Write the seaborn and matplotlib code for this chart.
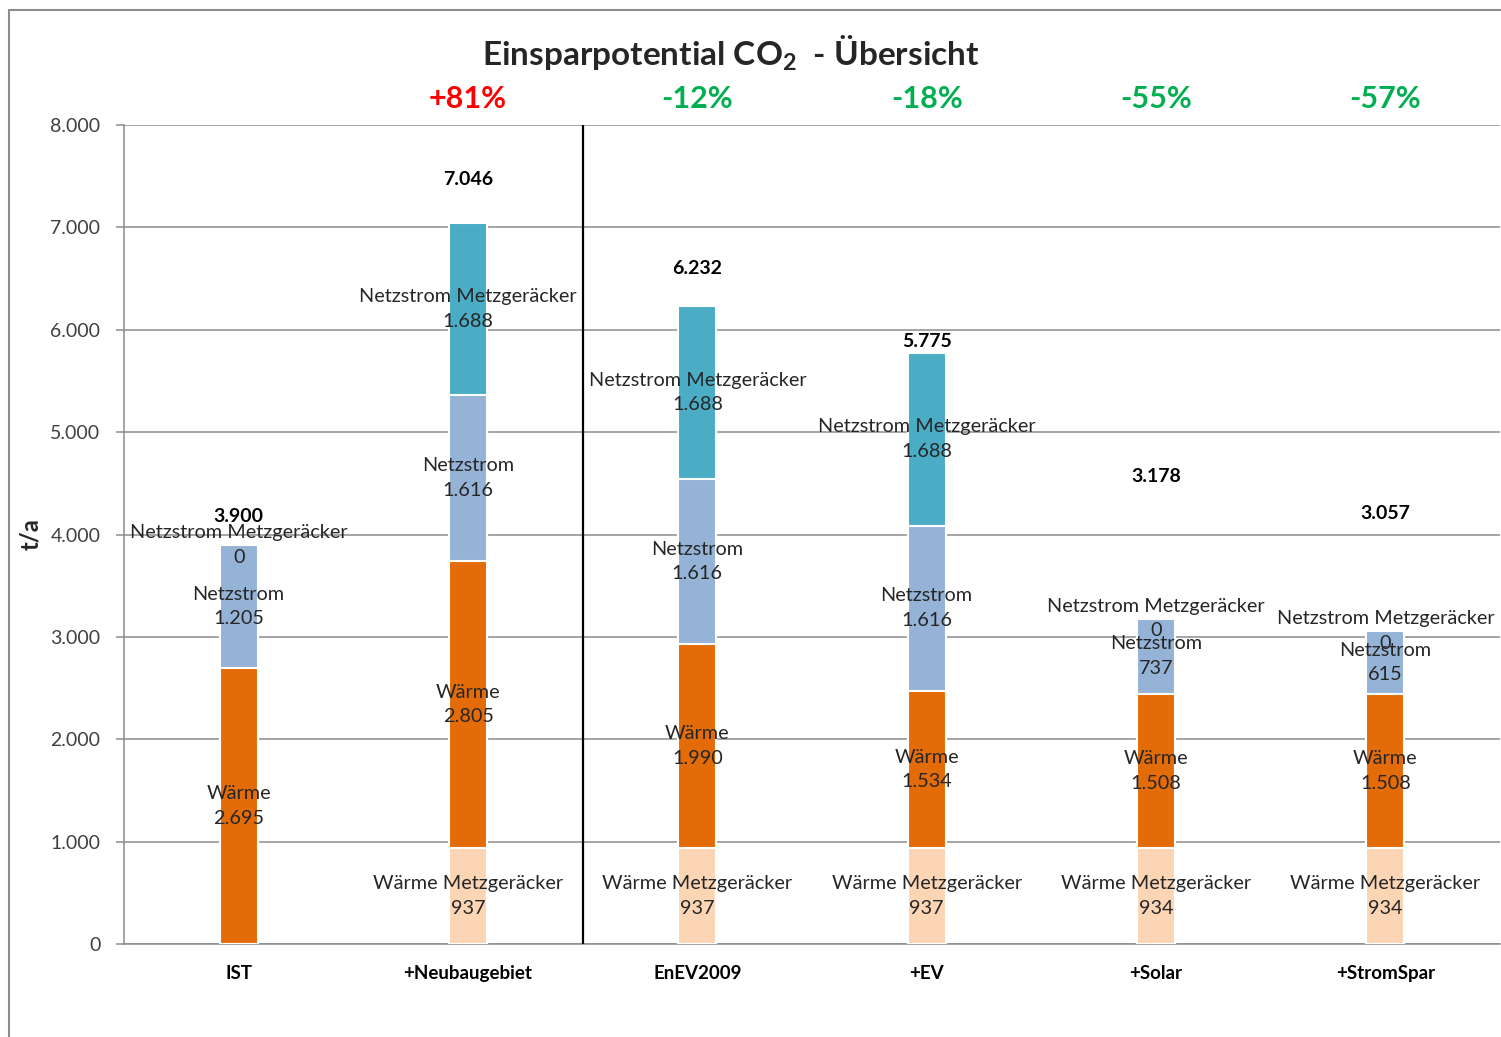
import numpy as np
import pandas as pd
import matplotlib.pyplot as plt
import seaborn as sns
from matplotlib.lines import Line2D

# data (t/a CO2)
categories = ["IST", "+Neubaugebiet", "EnEV2009", "+EV", "+Solar", "+StromSpar"]
segments = ["Wärme Metzgeräcker", "Wärme", "Netzstrom", "Netzstrom Metzgeräcker"]
waerme_metzg = [np.nan, 937, 937, 937, 934, 934]
waerme = [2695, 2805, 1990, 1534, 1508, 1508]
netzstrom = [1205, 1616, 1616, 1616, 737, 615]
netzstrom_metzg = [0, 1688, 1688, 1688, 0, 0]
totals = [3900, 7046, 6232, 5775, 3178, 3057]
change_labels = ["", "+81%", "-12%", "-18%", "-55%", "-57%"]

# layout for the total labels (offset above bar, t/a)
total_pad = [271, 417, 371, 115, 1393, 1153]

colors = ["#FCD5B5", "#E36C09", "#95B3D7", "#4BACC6"]
change_colors = ["black", "#FF0000", "#00B050", "#00B050", "#00B050", "#00B050"]

def de(v):
    return f"{v:,.0f}".replace(",", ".")

sns.set_style("white")
plt.rcParams["font.family"] = ["Lato", "DejaVu Sans"]
plt.rcParams["mathtext.default"] = "regular"

df = pd.DataFrame({"Kategorie": categories,
                   segments[0]: waerme_metzg, segments[1]: waerme,
                   segments[2]: netzstrom, segments[3]: netzstrom_metzg})
vals = df[segments].fillna(0)
cum = vals.cumsum(axis=1)

fig = plt.figure(figsize=(15.01, 10.37), dpi=100)
ax = fig.add_axes([124/1501, 1-944/1037, 1376/1501, 819/1037])

# stacked bars: draw cumulative heights from top layer down
for i in reversed(range(len(segments))):
    sns.barplot(x=df["Kategorie"], y=cum[segments[i]], color=colors[i], width=0.166,
                edgecolor="white", linewidth=1.5, saturation=1, ax=ax, zorder=3)

# segment labels
txt_col = "#262626"
for j in range(len(categories)):
    for i, seg in enumerate(segments):
        v = df[seg].iloc[j]
        if pd.isna(v):
            continue
        base = cum[seg].iloc[j] - vals[seg].iloc[j]
        ax.text(j, base + v/2, f"{seg}\n{de(v)}", ha="center", va="center",
                fontsize=14.3, color=txt_col, linespacing=1.55, zorder=5)
    ax.text(j, totals[j] + total_pad[j], de(totals[j]), ha="center", va="center",
            fontsize=14, fontweight="bold", color="black", zorder=5)
    if change_labels[j]:
        ax.text(j, 1.0317, change_labels[j], transform=ax.get_xaxis_transform(),
                ha="center", va="center", fontsize=22, fontweight="bold",
                color=change_colors[j])

ax.axvline(1.5, color="black", lw=1.6, zorder=4)

ax.set_xlim(-0.5, len(categories) - 0.5)
ax.set_ylim(0, 8000)
ax.set_yticks(np.arange(0, 8001, 1000))
ax.set_yticklabels([de(t) for t in np.arange(0, 8001, 1000)], fontsize=14, color="#404040")
ax.yaxis.grid(True, color="#8C8C8C", lw=1.1, zorder=0)
ax.set_axisbelow(True)
ax.set_xticks(range(len(categories)))
ax.set_xticklabels(categories, fontsize=13.5, fontweight="bold", color="black")
ax.set_xticks(np.arange(-0.5, len(categories), 1), minor=True)
ax.tick_params(axis="x", which="major", length=0, pad=15)
ax.tick_params(axis="x", which="minor", length=6, color="#8C8C8C", width=1.1)
ax.tick_params(axis="y", length=6, color="#8C8C8C", width=1.1, pad=11, left=True)
ax.set_xlabel("")
ax.set_ylabel("t/a", fontsize=17, fontweight="bold", labelpad=6)
for s in ["top", "right"]:
    ax.spines[s].set_visible(False)
for s in ["left", "bottom"]:
    ax.spines[s].set_color("#8C8C8C")
    ax.spines[s].set_linewidth(1.1)

fig.text(731/1501, 1-53/1037, r"Einsparpotential $CO_2$  - Übersicht", ha="center",
         va="center", fontsize=24, fontweight="bold")

# chart frame
fig.add_artist(Line2D([8.5/1501, 8.5/1501], [0, 1-10/1037], color="#8C8C8C", lw=1.5))
fig.add_artist(Line2D([8.5/1501, 1], [1-10/1037, 1-10/1037], color="#8C8C8C", lw=1.5))

fig.savefig("out.png", dpi=100)
